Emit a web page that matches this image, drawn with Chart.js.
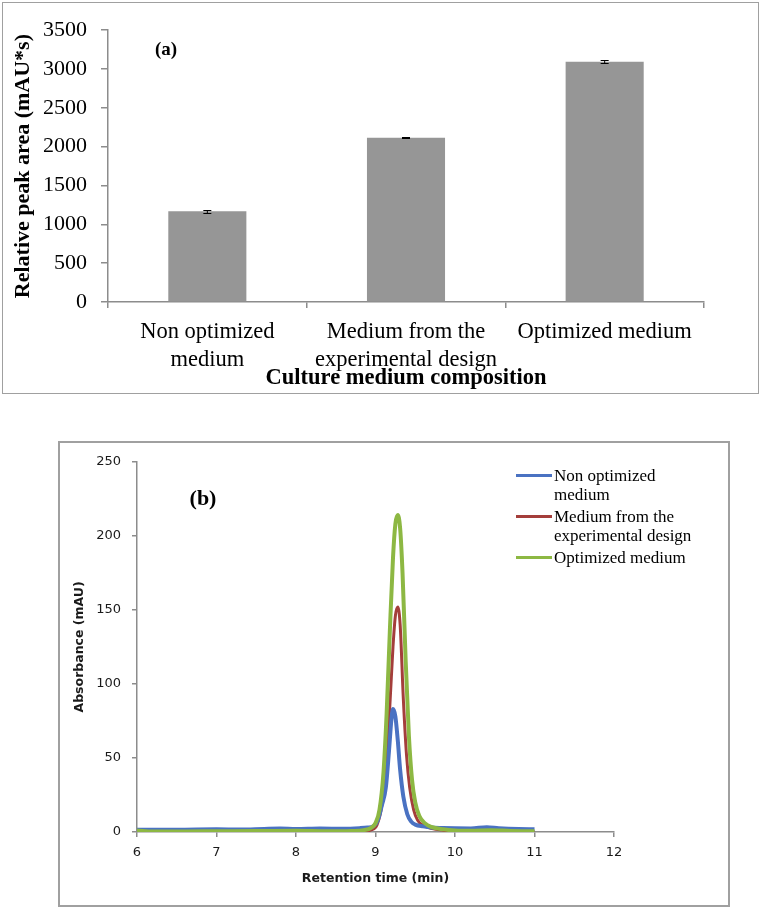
<!DOCTYPE html>
<html>
<head>
<meta charset="utf-8">
<script src="https://cdn.jsdelivr.net/npm/chart.js@4.4.0/dist/chart.umd.min.js"></script>
<style>
  body { margin: 0; background: #fff; width: 761px; height: 910px; position: relative; overflow: hidden; }
  #boxA { position: absolute; left: 2px; top: 2px; width: 755px; height: 390px; border: 1px solid #a0a0a0; }
  #boxB { position: absolute; left: 58px; top: 441px; width: 668px; height: 462px; border: 2px solid #a0a0a0; }
  #legendB { position: absolute; left: 516px; top: 466px; font-family: "Liberation Serif", serif; font-size: 17px; line-height: 19px; color: #000; }
  .item { position: relative; padding-left: 38px; margin-bottom: 3px; }
  .swatch { position: absolute; left: 0; top: 8px; width: 36px; height: 3px; }
</style>
</head>
<body>
<div id="boxA"><canvas id="barChart" width="755" height="390"></canvas></div>
<div id="boxB"><canvas id="lineChart" width="668" height="462"></canvas></div>
<div id="legendB"></div>
<script>
// (a) relative peak area per culture medium
var categories = [['Non optimized', 'medium'], ['Medium from the', 'experimental design'], 'Optimized medium'];
var peakArea = [1170, 2115, 3095];
var peakAreaErr = [20, 8, 22];

// (b) chromatograms: retention time (min) and absorbance (mAU)
var seriesNames = [['Non optimized', 'medium'], ['Medium from the', 'experimental design'], ['Optimized medium']];

var nonOptTime = [6.0, 6.3, 6.6, 7.0, 7.3, 7.6, 7.8, 8.0, 8.3, 8.6, 8.8, 8.9, 8.97, 9.03, 9.08, 9.13, 9.17, 9.2, 9.22, 9.25, 9.28, 9.31, 9.35, 9.4, 9.45, 9.5, 9.6, 9.7, 9.85, 10.0, 10.2, 10.4, 10.55, 10.8, 11.0];
var nonOptAbs = [1.6, 1.5, 1.6, 1.8, 1.7, 2.1, 2.3, 2.0, 2.3, 2.2, 2.6, 3.0, 3.8, 8, 18, 30, 55, 76, 83, 78, 62, 42, 24, 12, 7, 5, 3.8, 3.0, 2.7, 2.5, 2.4, 3.2, 2.6, 2.0, 1.8];

var expDesignTime = [6.0, 6.5, 7.0, 7.5, 7.7, 7.85, 8.0, 8.3, 8.6, 8.85, 8.95, 9.02, 9.08, 9.13, 9.18, 9.22, 9.25, 9.28, 9.31, 9.35, 9.39, 9.43, 9.48, 9.53, 9.6, 9.7, 9.85, 10.0, 10.3, 10.5, 10.7, 11.0];
var expDesignAbs = [0.3, 0.3, 0.2, 0.5, 1.2, 0.6, 0.2, 0.1, 0.3, 0.6, 1.5, 5, 18, 45, 85, 125, 146, 152, 140, 90, 52, 30, 15, 8, 4.5, 2.5, 1.2, 0.6, 0.5, 0.9, 0.4, 0.3];

var optTime = [6.0, 6.2, 6.6, 7.0, 7.5, 8.0, 8.4, 8.7, 8.85, 8.95, 9.0, 9.05, 9.1, 9.14, 9.18, 9.22, 9.25, 9.28, 9.31, 9.34, 9.38, 9.42, 9.46, 9.5, 9.55, 9.62, 9.7, 9.85, 10.0, 10.2, 10.45, 10.7, 11.0];
var optAbs = [1.0, 0.4, 0.4, 0.5, 0.6, 0.8, 0.5, 0.7, 1.2, 3, 6, 15, 40, 80, 135, 185, 208, 214, 205, 175, 115, 65, 35, 20, 11, 6, 3.5, 1.8, 1.0, 0.8, 1.2, 0.7, 0.5];

var lineColors = ['#4a72c2', '#a43e3b', '#8db843'];
var lineWidths = [4, 3, 4];

function toPoints(xs, ys) {
  return xs.map(function(x, i) { return { x: x, y: ys[i] }; });
}

function plainNumber(value) {
  return String(value);
}

function panelLabel(text, x, y, size) {
  return {
    id: 'panelLabel',
    afterDraw: function(chart) {
      var ctx = chart.ctx;
      ctx.save();
      ctx.font = 'bold ' + size + 'px "Liberation Serif"';
      ctx.fillStyle = '#000';
      ctx.textAlign = 'center';
      ctx.textBaseline = 'middle';
      ctx.fillText(text, x, y);
      ctx.restore();
    }
  };
}

// little error bars on top of each bar
var errorBars = {
  id: 'errorBars',
  afterDatasetsDraw: function(chart) {
    var meta = chart.getDatasetMeta(0);
    var y = chart.scales.y;
    var ctx = chart.ctx;
    ctx.save();
    ctx.strokeStyle = '#000';
    ctx.lineWidth = 1;
    meta.data.forEach(function(bar, i) {
      var top = Math.round(y.getPixelForValue(peakArea[i] + peakAreaErr[i])) + 0.5;
      var bot = Math.round(y.getPixelForValue(peakArea[i] - peakAreaErr[i])) + 0.5;
      ctx.beginPath();
      ctx.moveTo(bar.x, top); ctx.lineTo(bar.x, bot);
      ctx.moveTo(bar.x - 4, top); ctx.lineTo(bar.x + 4, top);
      ctx.moveTo(bar.x - 4, bot); ctx.lineTo(bar.x + 4, bot);
      ctx.stroke();
    });
    ctx.restore();
  }
};

var serif = '"Liberation Serif"';
var axisGray = '#8c8c8c';

new Chart(document.getElementById('barChart'), {
  type: 'bar',
  data: {
    labels: categories,
    datasets: [{
      label: 'Relative peak area',
      data: peakArea,
      backgroundColor: '#969696',
      borderWidth: 0,
      barPercentage: 0.393,
      categoryPercentage: 1
    }]
  },
  options: {
    responsive: false,
    animation: false,
    layout: { padding: { left: 0, top: 18, right: 54, bottom: 0 } },
    plugins: { legend: { display: false }, tooltip: { enabled: false } },
    scales: {
      x: {
        afterFit: function(scale) { scale.height = 91; },
        grid: { drawOnChartArea: false, drawTicks: true, tickLength: 6, color: axisGray, lineWidth: 1.5 },
        border: { color: axisGray, width: 1.5 },
        ticks: { color: '#000', font: { family: serif, size: 22.5, lineHeight: 28 / 22.5 }, padding: 10, maxRotation: 0, autoSkip: false },
        title: { display: true, text: 'Culture medium composition', color: '#000', font: { family: serif, size: 22.5, weight: 'bold', lineHeight: 1.2 }, padding: { top: 0, bottom: 1.5 } }
      },
      y: {
        min: 0,
        max: 3500,
        afterFit: function(scale) { scale.width = 105; },
        grid: { drawOnChartArea: false, drawTicks: true, tickLength: 7, color: axisGray, lineWidth: 1.5 },
        border: { color: axisGray, width: 1.5 },
        ticks: { stepSize: 500, color: '#000', font: { family: serif, size: 22 }, padding: 14, callback: plainNumber },
        title: { display: true, text: 'Relative peak area (mAU*s)', color: '#000', font: { family: serif, size: 22, weight: 'bold', lineHeight: 1.2 }, padding: { top: 7.5, bottom: 0 } }
      }
    }
  },
  plugins: [errorBars, panelLabel('(a)', 163, 47, 19)]
});

var sans = '"DejaVu Sans"';
var curves = [toPoints(nonOptTime, nonOptAbs), toPoints(expDesignTime, expDesignAbs), toPoints(optTime, optAbs)];

new Chart(document.getElementById('lineChart'), {
  type: 'line',
  data: {
    datasets: curves.map(function(pts, i) {
      return {
        label: seriesNames[i].join(' '),
        data: pts,
        borderColor: lineColors[i],
        borderWidth: lineWidths[i],
        pointRadius: 0,
        fill: false,
        cubicInterpolationMode: 'monotone',
        order: [1, 2, 0][i]
      };
    })
  },
  options: {
    responsive: false,
    animation: false,
    layout: { padding: { left: 0, top: 17, right: 114, bottom: 0 } },
    plugins: { legend: { display: false }, tooltip: { enabled: false } },
    scales: {
      x: {
        type: 'linear',
        min: 6,
        max: 12,
        afterFit: function(scale) { scale.height = 73; },
        grid: { drawOnChartArea: false, drawTicks: true, tickLength: 5, color: axisGray, lineWidth: 1.5 },
        border: { color: axisGray, width: 1.5 },
        ticks: { stepSize: 1, color: '#1a1a1a', font: { family: sans, size: 13 }, padding: 8, callback: plainNumber },
        title: { display: true, text: 'Retention time (min)', color: '#1a1a1a', font: { family: sans, size: 12.5, weight: 'bold', lineHeight: 1.2 }, padding: { top: 0, bottom: 18.5 } }
      },
      y: {
        min: 0,
        max: 250,
        afterFit: function(scale) { scale.width = 77; },
        grid: { drawOnChartArea: false, drawTicks: true, tickLength: 5, color: axisGray, lineWidth: 1.5 },
        border: { color: axisGray, width: 1.5 },
        ticks: { stepSize: 50, color: '#1a1a1a', font: { family: sans, size: 13 }, padding: 11, callback: plainNumber },
        title: { display: true, text: 'Absorbance (mAU)', color: '#1a1a1a', font: { family: sans, size: 12.5, weight: 'bold', lineHeight: 1.2 }, padding: { top: 12.5, bottom: 0 } }
      }
    }
  },
  plugins: [panelLabel('(b)', 143, 56, 22)]
});

// legend for (b), built from the series names and colours
var legend = document.getElementById('legendB');
seriesNames.forEach(function(lines, i) {
  var item = document.createElement('div');
  item.className = 'item';
  var sw = document.createElement('span');
  sw.className = 'swatch';
  sw.style.background = lineColors[i];
  item.appendChild(sw);
  lines.forEach(function(line) {
    var d = document.createElement('div');
    d.textContent = line;
    item.appendChild(d);
  });
  legend.appendChild(item);
});
</script>
</body>
</html>
